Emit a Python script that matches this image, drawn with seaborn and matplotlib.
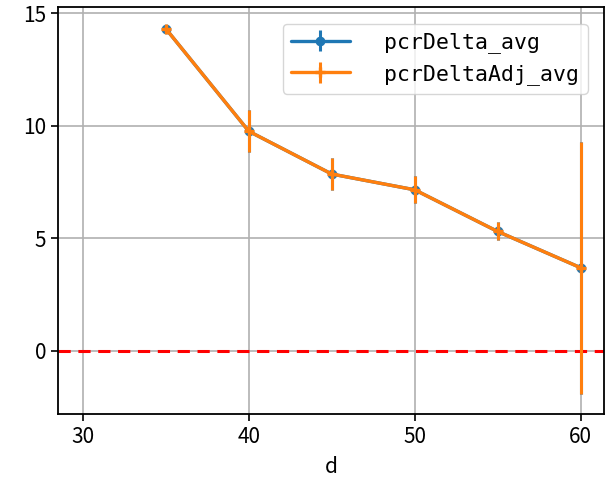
import matplotlib
matplotlib.use("Agg")
import matplotlib.pyplot as plt
import seaborn as sns
import numpy as np

d = [35, 40, 45, 50, 55, 60]
pcrDelta_avg = [14.3, 9.75, 7.85, 7.15, 5.3, 3.69]
pcrDelta_err = [0.0, 0.94, 0.70, 0.60, 0.40, 5.6]
pcrDeltaAdj_avg = [14.3, 9.75, 7.85, 7.15, 5.3, 3.69]
pcrDeltaAdj_err = [0.0, 0.94, 0.70, 0.60, 0.40, 5.6]
labels = ["pcrDelta_avg", "pcrDeltaAdj_avg"]

sns.set_theme(style="ticks")
plt.rcParams['font.family'] = ['Noto Sans CJK SC', 'DejaVu Sans']
plt.rcParams['text.color'] = 'black'
plt.rcParams['axes.labelcolor'] = 'black'
plt.rcParams['xtick.color'] = 'black'
plt.rcParams['ytick.color'] = 'black'

fig = plt.figure(figsize=(6.05, 4.84), dpi=100)
ax = fig.add_axes([0.096, 0.145, 0.902, 0.841])

blue, orange = sns.color_palette("tab10")[:2]

ax.errorbar(d, pcrDelta_avg, yerr=pcrDelta_err, color=blue, marker='o', ms=6,
            lw=2.4, elinewidth=2.2, label=labels[0], zorder=3)
ax.errorbar(d, pcrDeltaAdj_avg, yerr=pcrDeltaAdj_err, color=orange, marker='+', ms=7,
            mew=2.4, lw=2.4, elinewidth=2.2, label=labels[1], zorder=4)
ax.axhline(0, color='red', ls=(0, (4, 2.5)), lw=2.2, zorder=2)

ax.set_xlim(28.5, 61.4)
ax.set_ylim(-2.8, 15.28)
ax.set_xticks([30, 40, 50, 60])
ax.set_yticks([0, 5, 10, 15])
ax.grid(True, color='#b0b0b0', lw=1.2)
ax.set_axisbelow(True)
ax.tick_params(labelsize=15, length=5, width=1.2, color='black')
for s in ax.spines.values():
    s.set_color('black')
    s.set_linewidth(1.3)
ax.set_xlabel("d", fontsize=15, labelpad=6)

leg = ax.legend(loc='upper right', prop={'family': ['DejaVu Sans Mono'], 'size': 15.5},
                handlelength=2.7, handletextpad=1.6, borderpad=0.4, framealpha=0.8,
                bbox_to_anchor=(0.99, 0.985))
leg.get_frame().set_edgecolor('#cccccc')
for t in leg.get_texts():
    t.set_color('black')

fig.savefig("out.png", dpi=100)
